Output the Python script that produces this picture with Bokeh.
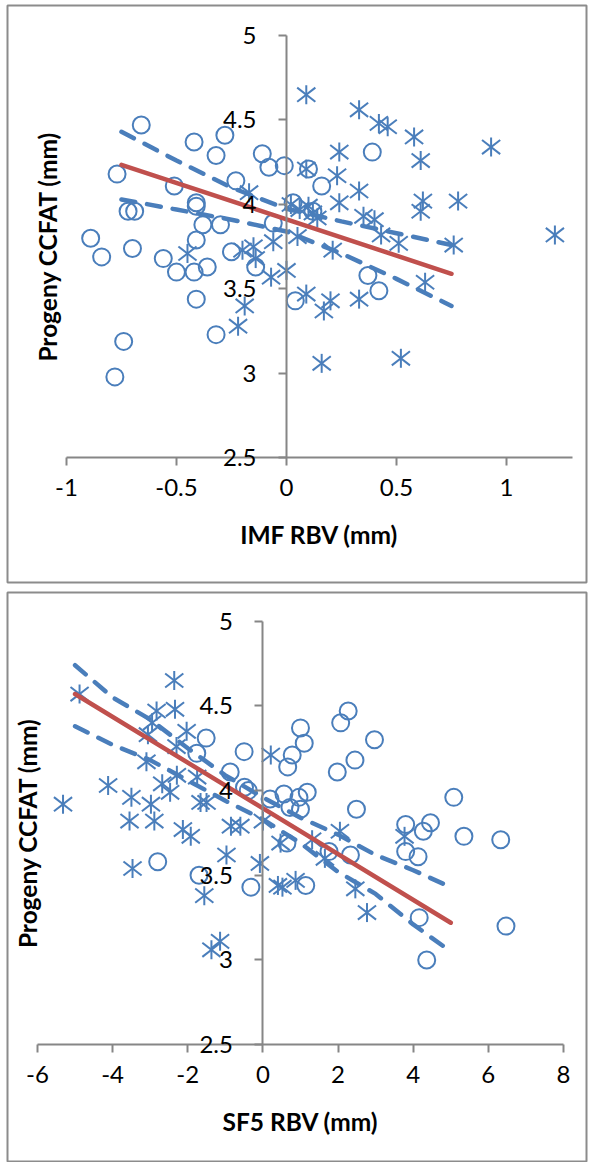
import math
from bokeh.plotting import figure
from bokeh.models import LinearAxis, FixedTicker, Range1d
from bokeh.layouts import column
from bokeh.embed import file_html
from bokeh.resources import INLINE

# ---------------- data: top panel (IMF RBV) ----------------
imf_circle_x = [-0.66, -0.77, -0.42, -0.28, -0.32, -0.11, -0.08, -0.01, -0.23, -0.51,
                -0.41, -0.41, -0.72, -0.69, -0.38, -0.30, -0.06, 0.03, 0.10, 0.16,
                0.39, 0.12, -0.89, -0.84, -0.70, -0.41, -0.56, -0.50, -0.42, -0.36,
                -0.25, -0.14, -0.41, -0.32, -0.74, -0.78, 0.04, 0.37, 0.42]
imf_circle_y = [4.47, 4.18, 4.37, 4.41, 4.29, 4.30, 4.22, 4.23, 4.14, 4.11,
                4.01, 3.99, 3.96, 3.96, 3.88, 3.88, 3.89, 4.01, 4.21, 4.11,
                4.31, 3.96, 3.80, 3.69, 3.74, 3.79, 3.68, 3.60, 3.60, 3.63,
                3.72, 3.63, 3.44, 3.23, 3.19, 2.98, 3.43, 3.58, 3.49]
imf_star_x = [0.09, 0.33, 0.42, 0.46, 0.58, 0.93, 0.24, 0.61, 0.09, 0.23,
              0.33, -0.17, 0.24, 0.62, 0.78, 0.61, 0.02, 0.06, 0.10, 0.12,
              0.14, 0.35, 0.40, 0.05, -0.06, 0.21, 0.43, 0.51, 0.76, 1.22,
              0.00, -0.07, -0.15, -0.20, -0.14, -0.45, 0.63, 0.09, 0.20, 0.17,
              0.33, -0.19, -0.22, 0.16, 0.52]
imf_star_y = [4.65, 4.56, 4.48, 4.46, 4.40, 4.34, 4.31, 4.26, 4.21, 4.17,
              4.08, 4.07, 4.01, 4.02, 4.02, 3.96, 4.00, 3.97, 3.99, 3.95,
              3.92, 3.93, 3.91, 3.81, 3.78, 3.73, 3.82, 3.77, 3.76, 3.82,
              3.61, 3.57, 3.75, 3.73, 3.68, 3.71, 3.54, 3.47, 3.43, 3.37,
              3.44, 3.40, 3.28, 3.06, 3.09]
imf_fit_x = [-0.75, 0.75]
imf_fit_y = [4.235, 3.59]
imf_band_x = [-0.75, -0.5, -0.25, 0.0, 0.25, 0.5, 0.75]
imf_upper_y = [4.43, 4.26, 4.10, 3.975, 3.90, 3.83, 3.76]
imf_lower_y = [4.03, 3.97, 3.91, 3.84, 3.71, 3.56, 3.40]
imf_xticks = [-1, -0.5, 0, 0.5, 1]
imf_xtick_labels = ["-1", "-0.5", "0", "0.5", "1"]

# ---------------- data: bottom panel (SF5 RBV) ----------------
sf5_circle_x = [2.27, 2.07, 1.00, 1.10, 2.97, 0.78, 0.66, 2.45, 1.98, -1.51,
                -1.76, -0.50, -0.87, -0.49, -0.39, 0.19, 0.56, 0.96, 1.18, 0.72,
                1.00, 2.49, 5.08, 3.80, 4.46, 4.27, 5.35, 6.33, 3.80, 4.13,
                2.33, 1.76, 0.64, -2.80, -1.70, -0.32, 1.14, 4.16, 6.47, 4.36]
sf5_circle_y = [4.47, 4.40, 4.37, 4.28, 4.30, 4.21, 4.14, 4.18, 4.11, 4.31,
                4.22, 4.23, 4.11, 4.02, 4.00, 3.95, 3.98, 3.96, 3.99, 3.90,
                3.89, 3.89, 3.96, 3.80, 3.81, 3.76, 3.73, 3.71, 3.64, 3.61,
                3.62, 3.64, 3.69, 3.58, 3.50, 3.43, 3.44, 3.25, 3.20, 3.00]
sf5_star_x = [-2.36, -4.88, -2.83, -2.34, -2.95, -3.06, -2.03, -2.30, 0.21, -3.10,
              -2.29, -1.75, -4.12, -2.68, -2.47, -3.50, -2.98, -1.66, -1.50, -5.32,
              -3.55, -2.89, -2.13, -1.92, -0.85, -0.60, 0.00, 2.05, 1.31, 0.47,
              3.77, -0.97, -0.08, -3.47, -1.56, 0.40, 0.52, 0.87, 1.65, 2.46,
              2.77, -1.37, -1.14]
sf5_star_y = [4.65, 4.57, 4.47, 4.48, 4.40, 4.33, 4.35, 4.26, 4.21, 4.17,
              4.09, 4.08, 4.03, 4.04, 3.99, 3.96, 3.92, 3.93, 3.93, 3.92,
              3.82, 3.82, 3.77, 3.73, 3.79, 3.79, 3.82, 3.76, 3.71, 3.69,
              3.73, 3.62, 3.57, 3.54, 3.38, 3.44, 3.43, 3.47, 3.60, 3.42,
              3.28, 3.06, 3.11]
sf5_fit_x = [-5.0, 5.0]
sf5_fit_y = [4.57, 3.22]
sf5_band_x = [-5, -4, -3, -2, -1, 0, 1, 2, 3, 4, 5]
sf5_upper_y = [4.74, 4.55, 4.42, 4.25, 4.09, 3.96, 3.84, 3.74, 3.62, 3.53, 3.43]
sf5_lower_y = [4.38, 4.27, 4.18, 4.06, 3.94, 3.83, 3.69, 3.52, 3.39, 3.21, 3.05]
sf5_xticks = [-6, -4, -2, 0, 2, 4, 6, 8]
sf5_xtick_labels = ["-6", "-4", "-2", "0", "2", "4", "6", "8"]

yticks = [2.5, 3, 3.5, 4, 4.5, 5]
ytick_labels = ["2.5", "3", "3.5", "4", "4.5", "5"]

BLUE = "#4A7EBB"
RED = "#C0504D"
AXIS = "#868686"
FONT = "Lato"


def make_panel(height, xr, yr, border_bottom, xb, xticks, xlabels, xtitle,
               cx, cy, sx, sy, fx, fy, bx, up, lo, ylab_standoff):
    p = figure(width=597, height=height, x_range=Range1d(*xr), y_range=Range1d(*yr),
               output_backend="svg", toolbar_location=None,
               x_axis_type=None, y_axis_type=None,
               min_border_left=7, min_border_right=11, min_border_top=5,
               min_border_bottom=border_bottom,
               background_fill_color="white", border_fill_color="white",
               outline_line_color="#8C8C8C", outline_line_width=2)

    xa = LinearAxis(fixed_location=2.5, bounds=xb,
                    ticker=FixedTicker(ticks=xticks),
                    major_label_overrides={float(v): l for v, l in zip(xticks, xlabels)},
                    axis_label=xtitle)
    ya = LinearAxis(fixed_location=0, bounds=(2.5, 5),
                    ticker=FixedTicker(ticks=yticks),
                    major_label_overrides={float(v): l for v, l in zip(yticks, ytick_labels)},
                    axis_label="Progeny CCFAT (mm)")
    for ax in (xa, ya):
        ax.axis_line_color = AXIS
        ax.axis_line_width = 2
        ax.major_tick_line_color = AXIS
        ax.major_tick_line_width = 2
        ax.major_tick_in = 0
        ax.major_tick_out = 8
        ax.minor_tick_in = 0
        ax.minor_tick_out = 0
        ax.major_label_text_font = FONT
        ax.major_label_text_font_size = "24px"
        ax.major_label_text_color = "black"
        ax.axis_label_text_font = FONT
        ax.axis_label_text_font_size = "24.5px"
        ax.axis_label_text_font_style = "bold"
        ax.axis_label_text_color = "black"
    xa.major_label_standoff = 13
    xa.axis_label_standoff = 21
    ya.major_label_standoff = 22
    ya.axis_label_standoff = ylab_standoff
    p.add_layout(xa, "below")
    p.add_layout(ya, "left")

    p.scatter(cx, cy, marker="circle", size=17, fill_color=None,
              line_color=BLUE, line_width=2)
    for ang, sz in ((math.pi / 2, 19), (0.66, 23), (-0.66, 23)):
        p.scatter(sx, sy, marker="dash", size=sz, angle=ang,
                  line_color=BLUE, line_width=2)
    p.line(bx, up, line_color=BLUE, line_width=4.5, line_dash="14 12", line_cap="round")
    p.line(bx, lo, line_color=BLUE, line_width=4.5, line_dash="14 12", line_cap="round")
    p.line(fx, fy, line_color=RED, line_width=4.5, line_cap="round")
    return p


p1 = make_panel(587, (-1.268, 1.3636), (1.7633, 5.1775), 5, (-1, 1.3),
                imf_xticks, imf_xtick_labels, "IMF RBV (mm)",
                imf_circle_x, imf_circle_y, imf_star_x, imf_star_y,
                imf_fit_x, imf_fit_y, imf_band_x, imf_upper_y, imf_lower_y, 158)
p2 = make_panel(575, (-6.798, 8.613), (1.8046, 5.1694), 0, (-6, 8),
                sf5_xticks, sf5_xtick_labels, "SF5 RBV (mm)",
                sf5_circle_x, sf5_circle_y, sf5_star_x, sf5_star_y,
                sf5_fit_x, sf5_fit_y, sf5_band_x, sf5_upper_y, sf5_lower_y, 154)

layout = column(p1, p2, spacing=0)
open("out.html", "w").write(file_html(layout, INLINE))
